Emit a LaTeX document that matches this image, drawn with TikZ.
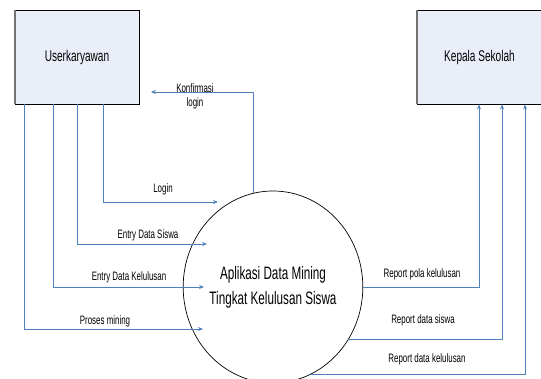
\documentclass[tikz,border=0pt]{standalone}
\usepackage{fontspec}
\setmainfont{Liberation Sans}[FakeStretch=0.65]
\usetikzlibrary{shapes.geometric,arrows.meta}
\definecolor{flowblue}{HTML}{4F81BD}
\definecolor{boxfill}{HTML}{E9EEF8}
\begin{document}
\begin{tikzpicture}[x=1pt,y=-1pt,
  entity/.style={draw=black,line width=0.9pt,fill=boxfill,minimum width=124pt,minimum height=94pt,inner sep=0pt,font=\fontsize{15.5}{18}\selectfont},
  leftedge/.style={draw=black!55,line width=2pt},
  process/.style={ellipse,draw=black,line width=0.7pt,minimum width=138pt,minimum height=192pt,inner sep=0pt,align=center,font=\fontsize{18}{25}\selectfont},
  flow/.style={draw=flowblue,line width=0.8pt,-{Stealth[length=5pt,width=4pt]}},
  lbl/.style={font=\fontsize{12.2}{14}\selectfont,inner sep=0pt}]
\useasboundingbox (0,0) rectangle (541,379);
\node[entity] (user) at (77,57) {Userkaryawan};
\node[entity] (kepala) at (479.5,57) {Kepala Sekolah};
\draw[leftedge] ([yshift=-0.5pt]user.north west) -- ([yshift=0.5pt]user.south west);
\draw[leftedge] ([yshift=-0.5pt]kepala.north west) -- ([yshift=0.5pt]kepala.south west);
\node[process] (app) at (273,287) {Aplikasi Data Mining\\Tingkat Kelulusan Siswa};
\coordinate (loginEnd) at (218,202);
\coordinate (siswaEnd) at (207,244);
\coordinate (lulusEnd) at (204,287);
\coordinate (miningEnd) at (203,329);
\coordinate (konfEnd) at (151,92);
\draw[flow] ([xshift=89pt]user.south west) |- (loginEnd);
\draw[flow] ([xshift=63pt]user.south west) |- (siswaEnd);
\draw[flow] ([xshift=39pt]user.south west) |- (lulusEnd);
\draw[flow] ([xshift=10pt]user.south west) |- (miningEnd);
\draw[flow] (app.102) |- (konfEnd);
\draw[flow] (app.east) -| ([xshift=62pt]kepala.south west);
\draw[flow] (app.-35) -| ([xshift=85pt]kepala.south west);
\draw[flow] (app.-67) -| ([xshift=108pt]kepala.south west);
\node[lbl] (konfLbl) at (195,88) {Konfirmasi};
\node[lbl] (konfLbl2) at (195,103) {login};
\node[lbl] (loginLbl) at (163,189) {Login};
\node[lbl] (siswaLbl) at (148,235) {Entry Data Siswa};
\node[lbl] (lulusLbl) at (129,277) {Entry Data Kelulusan};
\node[lbl] (miningLbl) at (105,321) {Proses mining};
\node[lbl] (polaLbl) at (422,274) {Report pola kelulusan};
\node[lbl] (dsiswaLbl) at (423,320) {Report data siswa};
\node[lbl] (dlulusLbl) at (427,359) {Report data kelulusan};
\end{tikzpicture}
\end{document}
